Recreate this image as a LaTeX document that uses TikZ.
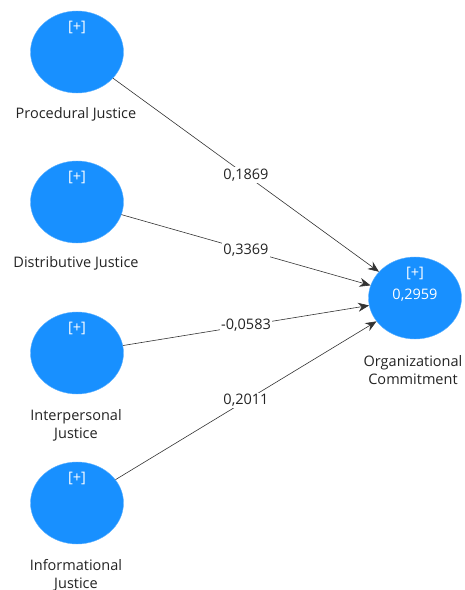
\documentclass[tikz,border=0pt]{standalone}
\usepackage{fontspec}
\setmainfont{Open Sans}
\usetikzlibrary{shapes.geometric,arrows.meta}
\definecolor{lvblue}{RGB}{24,144,255}
\definecolor{txtgray}{RGB}{35,35,35}
\tikzset{
  lv/.style={ellipse,fill=lvblue,draw=lvblue!70,line width=0.4pt,minimum width=93pt,minimum height=82pt,inner sep=0pt},
  plus/.style={text=white,font=\fontsize{14.5}{17}\selectfont,inner sep=0pt},
  lvname/.style={text=txtgray,font=\fontsize{14.5}{18}\selectfont,align=center,inner sep=0pt},
  path/.style={draw=black!80,line width=0.6pt,-{Stealth[length=11pt,width=9pt]}},
  coef/.style={fill=white,text=txtgray,font=\fontsize{14.5}{17}\selectfont,inner sep=1.5pt}
}
\begin{document}
\begin{tikzpicture}[x=1pt,y=-1pt]
\useasboundingbox (0,0) rectangle (464,590);
% latent variables
\node[lv] (pj) at (77,52) {};
\node[lv] (dj) at (77,202) {};
\node[lv] (ipj) at (77,353) {};
\node[lv] (ifj) at (77,503) {};
\node[lv] (oc) at (415,298) {};
% [+] markers
\node[plus] (pjp) at (77,27) {[+]};
\node[plus] (djp) at (77,177) {[+]};
\node[plus] (ipjp) at (77,328) {[+]};
\node[plus] (ifjp) at (77,478) {[+]};
\node[plus] (ocp) at (415,273) {[+]};
\node[plus] (ocv) at (415,295) {0,2959};
% names
\node[lvname] (pjn) at (76,114) {Procedural Justice};
\node[lvname] (djn) at (76,263) {Distributive Justice};
\node[lvname] (ipjn) at (76,425) {Interpersonal\\Justice};
\node[lvname] (ifjn) at (76,575) {Informational\\Justice};
\node[lvname] (ocn) at (413,370) {Organizational\\Commitment};
% paths
\draw[path] (pj) -- node[coef] (c1) {0,1869} (oc);
\draw[path] (dj) -- node[coef] (c2) {0,3369} (oc);
\draw[path] (ipj) -- node[coef] (c3) {-0,0583} (oc);
\draw[path] (ifj) -- node[coef] (c4) {0,2011} (oc);
\end{tikzpicture}
\end{document}
